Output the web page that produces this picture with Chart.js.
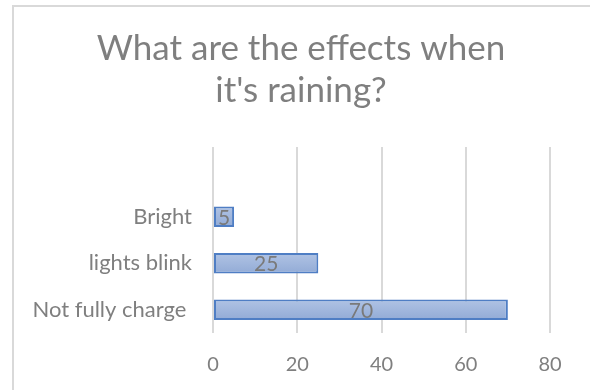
<!DOCTYPE html>
<html>
<head>
<meta charset="utf-8">
<script src="https://cdn.jsdelivr.net/npm/chart.js@4.4.1/dist/chart.umd.min.js"></script>
<style>
  html, body { margin: 0; padding: 0; background: #ffffff; }
  #wrap { position: relative; width: 590px; height: 390px; overflow: hidden; }
  #frame { position: absolute; left: 12px; top: 5px; width: 700px; height: 500px;
           border: 2px solid #d9d9d9; box-sizing: border-box; }
  #c { position: absolute; left: 0; top: 0; }
</style>
</head>
<body>
<div id="wrap">
  <div id="frame"></div>
  <canvas id="c" width="590" height="390"></canvas>
</div>
<script>
// Survey answers, listed top to bottom (first slot is an empty row)
const categories = ["", "Bright", "lights blink", "Not fully charge "];
const responses = [null, 5, 25, 70];
const xTicks = [0, 20, 40, 60, 80];
const titleLines = ["What are the effects when", "it's raining?"];

const gray = "#7f7f7f";
const fontFamily = "Lato, 'Open Sans', sans-serif";
const BAR_PCT = 0.44;

// Soft top-to-bottom shading inside every bar
function barFill(context) {
  const chart = context.chart;
  const area = chart.chartArea;
  const y = chart.scales.y;
  if (!area || !y) return "#a0b6dd";
  const g = chart.ctx.createLinearGradient(0, area.top, 0, area.bottom);
  const span = area.bottom - area.top;
  const band = span / categories.length;
  const half = band * BAR_PCT / 2;
  categories.forEach((_, i) => {
    const c = y.getPixelForValue(i);
    const t = Math.min(1, Math.max(0, (c - half - area.top) / span));
    const b = Math.min(1, Math.max(0, (c + half - area.top) / span));
    g.addColorStop(t, "#b0c3e4");
    g.addColorStop(b, "#92abd6");
  });
  return g;
}

// Two-line heading centred over the chart frame
const headingPlugin = {
  id: "heading",
  afterDraw(chart) {
    const ctx = chart.ctx;
    ctx.save();
    ctx.font = "35px " + fontFamily;
    ctx.fillStyle = gray;
    ctx.textAlign = "center";
    ctx.textBaseline = "alphabetic";
    ctx.fillText(titleLines[0], 301, 60);
    ctx.fillText(titleLines[1], 301, 102);
    ctx.restore();
  }
};

// Writes each bar's value in the middle of the bar
const barValueLabels = {
  id: "barValueLabels",
  afterDatasetsDraw(chart) {
    const ctx = chart.ctx;
    const meta = chart.getDatasetMeta(0);
    ctx.save();
    ctx.font = "21px " + fontFamily;
    ctx.fillStyle = "#7a7a7a";
    ctx.textAlign = "center";
    ctx.textBaseline = "middle";
    meta.data.forEach((bar, i) => {
      const v = chart.data.datasets[0].data[i];
      if (v === null || v === undefined) return;
      const x = (bar.x + bar.base) / 2;
      ctx.fillText(String(v), x, bar.y + 1);
    });
    ctx.restore();
  }
};

new Chart(document.getElementById("c"), {
  type: "bar",
  data: {
    labels: categories,
    datasets: [{
      data: responses,
      backgroundColor: barFill,
      borderColor: "#4f7ec4",
      borderWidth: 2,
      borderSkipped: false,
      categoryPercentage: 1.0,
      barPercentage: BAR_PCT
    }]
  },
  options: {
    indexAxis: "y",
    responsive: false,
    animation: false,
    layout: { padding: { left: 0, right: 40, top: 147, bottom: 0 } },
    plugins: {
      legend: { display: false },
      tooltip: { enabled: false },
      title: { display: false }
    },
    scales: {
      x: {
        min: 0,
        max: 80,
        afterBuildTicks(scale) { scale.ticks = xTicks.map(v => ({ value: v })); },
        grid: { color: "#d9d9d9", lineWidth: 2, drawTicks: false },
        border: { display: false },
        ticks: {
          color: gray,
          font: { family: fontFamily, size: 20 },
          padding: 20
        },
        afterFit(scale) { scale.height = 57; }
      },
      y: {
        grid: { display: false, drawTicks: false },
        border: { display: false },
        ticks: {
          color: gray,
          font: { family: fontFamily, size: 22 },
          padding: 21
        },
        afterFit(scale) { scale.width = 213; }
      }
    }
  },
  plugins: [headingPlugin, barValueLabels]
});
</script>
</body>
</html>
